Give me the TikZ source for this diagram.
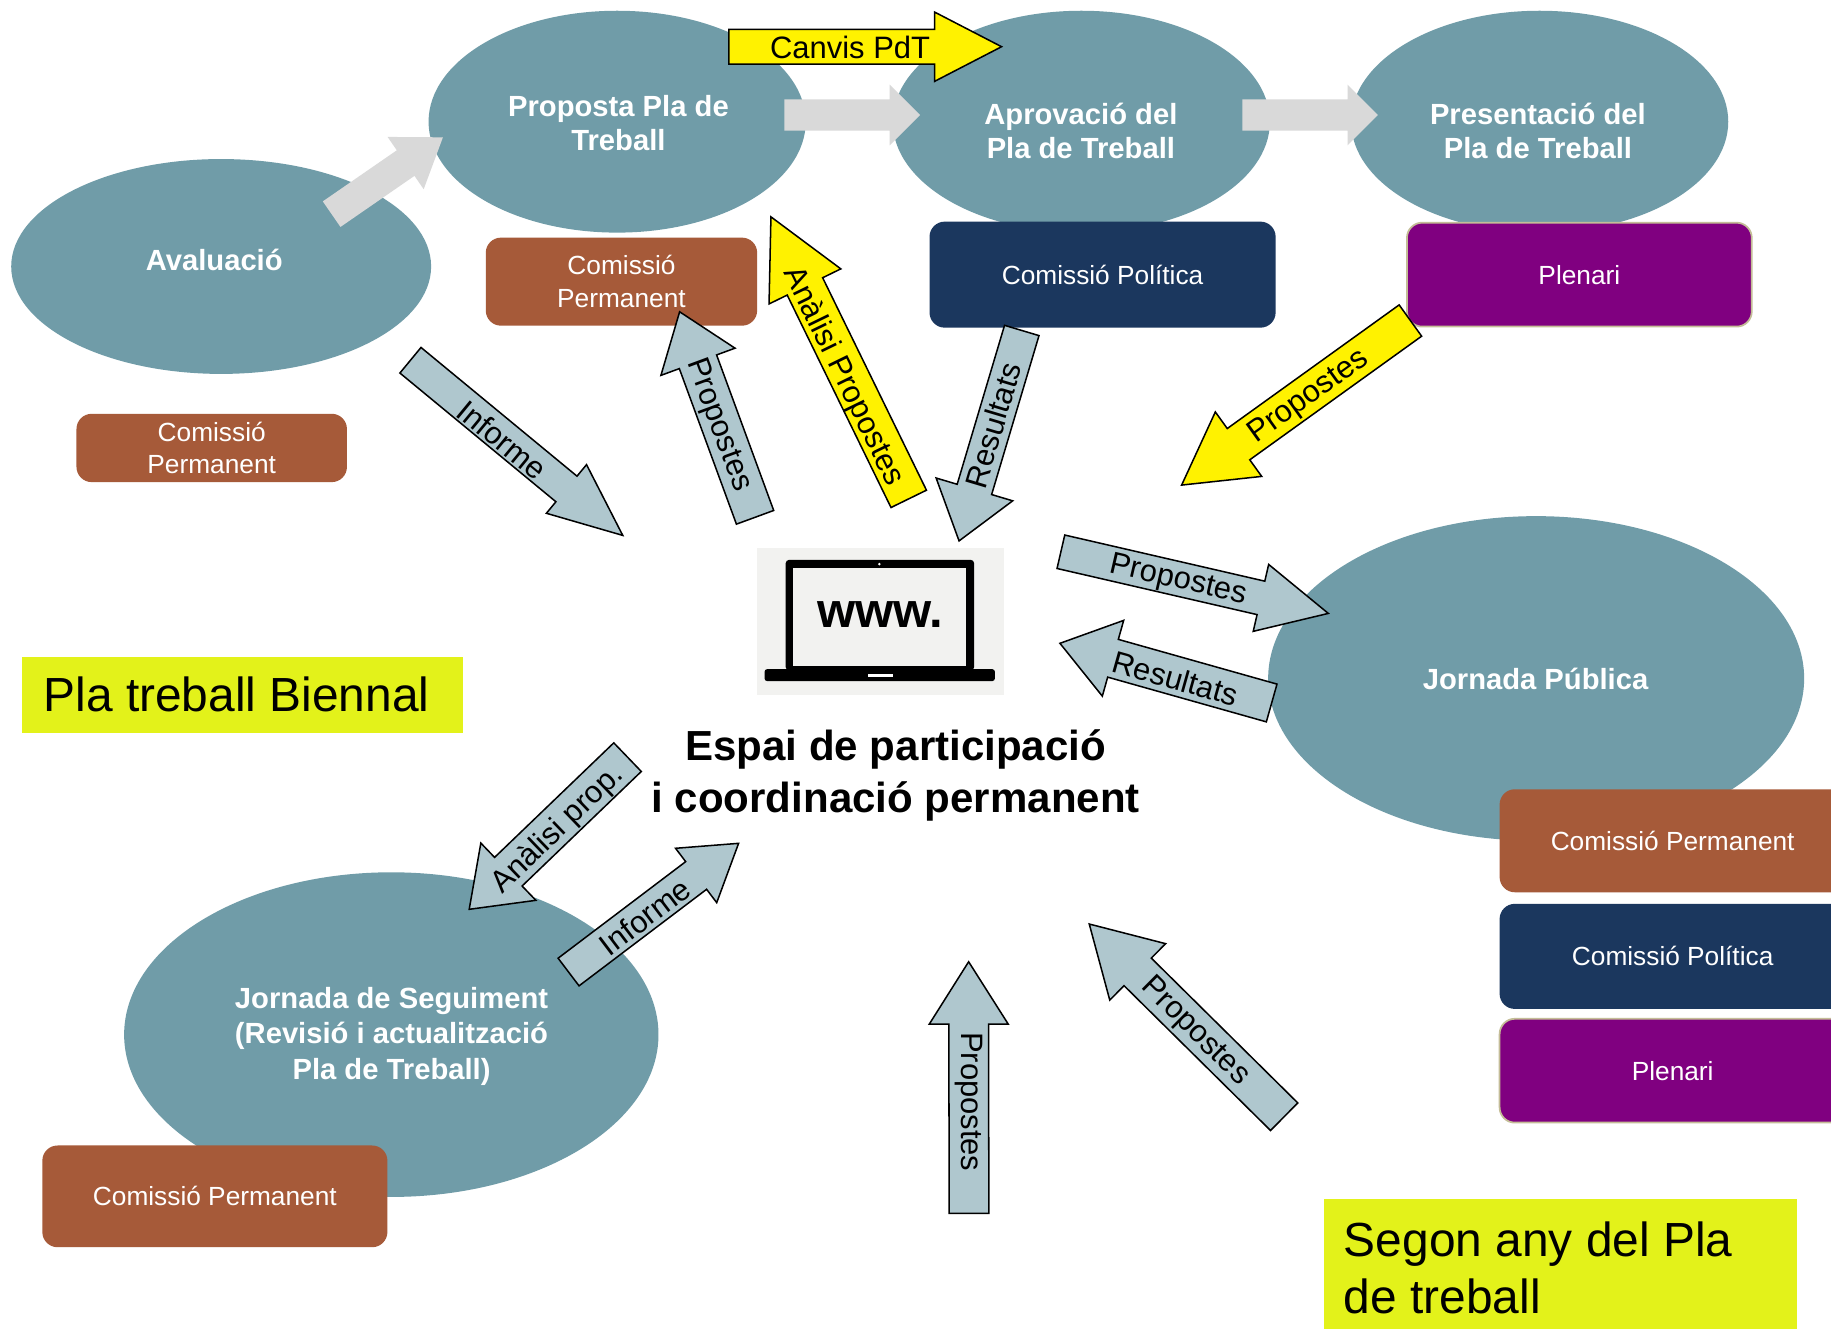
\documentclass[tikz,border=0pt]{standalone}
\usepackage{fontspec}
\setmainfont{Liberation Sans}
\usetikzlibrary{shapes.geometric,calc}
\definecolor{ellc}{RGB}{112,156,168}
\definecolor{brn}{RGB}{166,90,57}
\definecolor{nvy}{RGB}{27,55,94}
\definecolor{prp}{RGB}{128,0,128}
\definecolor{tanb}{RGB}{196,189,151}
\definecolor{lbl}{RGB}{175,199,206}
\definecolor{gry}{RGB}{217,217,217}
\definecolor{lime}{RGB}{227,242,26}
\definecolor{lap}{RGB}{242,242,240}
\newcommand\blockarrow[7]{%
  \coordinate (#1-t) at #3;
  \coordinate (#1-p) at #4;
  \coordinate (#1-h) at ($(#1-p)!#7pt!(#1-t)$);
  \path[#2] ($(#1-t)!#5pt!90:(#1-p)$) -- ($(#1-h)!#5pt!90:(#1-p)$) -- ($(#1-h)!#6pt!90:(#1-p)$) -- (#1-p) -- ($(#1-h)!#6pt!-90:(#1-p)$) -- ($(#1-h)!#5pt!-90:(#1-p)$) -- ($(#1-t)!#5pt!-90:(#1-p)$) -- cycle;
}
\begin{document}
\begin{tikzpicture}[x=1pt,y=-1pt,
  ellshape/.style={ellipse, fill=ellc, inner sep=0pt, outer sep=0pt},
  elltext/.style={text=white, align=center, font=\fontsize{25}{29.5}\selectfont\bfseries},
  box/.style={rounded corners=13pt, inner sep=0pt, text=white, align=center, font=\fontsize{22.5}{28}\selectfont},
  arrblue/.style={fill=lbl, draw=black, line width=1.3pt, line join=miter},
  arryel/.style={fill=yellow, draw=black, line width=1.3pt, line join=miter},
  arrgray/.style={fill=gry},
  lab/.style={inner sep=0pt, font=\fontsize{26.5}{30}\selectfont},
  bigl/.style={font=\fontsize{41}{49.3}\selectfont, inner sep=0pt, anchor=base west}]
\useasboundingbox (0,0) rectangle (1568,1137.3);
\clip (0,0) rectangle (1568,1137.3);
\fill[white] (0,0) rectangle (1568,1137.3);
% ellipses
\node[ellshape, minimum width=359.6pt, minimum height=184pt] (eval) at (189.4,228.2) {};
\node[ellshape, minimum width=323pt, minimum height=190pt] (prop) at (528.5,104.2) {};
\node[ellshape, minimum width=323pt, minimum height=190pt] (aprov) at (926,104.2) {};
\node[ellshape, minimum width=323pt, minimum height=190pt] (pres) at (1318.5,104.2) {};
\node[ellshape, minimum width=459pt, minimum height=278pt] (jpub) at (1315.5,581) {};
\node[ellshape, minimum width=457.6pt, minimum height=278pt] (jseg) at (335.1,886) {};
% boxes
\node[box, fill=brn, minimum width=232.4pt, minimum height=75.4pt] (cp1) at (532.2,241.2) {Comissió\\Permanent};
\node[box, fill=brn, minimum width=231.6pt, minimum height=58.5pt] (cp2) at (181.3,383.6) {Comissió\\Permanent};
\node[box, fill=nvy, minimum width=296.4pt, minimum height=90.8pt] (cpol1) at (944.2,235.2) {Comissió Política};
\node[box, fill=prp, draw=tanb, line width=1.5pt, minimum width=295.3pt, minimum height=89pt] (plen1) at (1352.5,235.2) {Plenari};
\node[box, fill=brn, minimum width=296.4pt, minimum height=88.2pt] (cp3) at (1432.4,720) {Comissió Permanent};
\node[box, fill=nvy, minimum width=296.4pt, minimum height=90pt] (cpol2) at (1432.4,819) {Comissió Política};
\node[box, fill=prp, draw=tanb, line width=1.5pt, minimum width=296.4pt, minimum height=88.9pt] (plen2) at (1432.4,916.9) {Plenari};
\node[box, fill=brn, minimum width=295.5pt, minimum height=87.1pt] (cp4) at (184,1024.5) {Comissió Permanent};
% label boxes
\node[fill=lime, minimum width=377.7pt, minimum height=65.8pt, inner sep=0pt] (bienbox) at (208,595.2) {};
\node[bigl] (bien) at (37.1,609.4) {Pla treball Biennal};
\node[fill=lime, minimum width=404.8pt, minimum height=115pt, inner sep=0pt] (segbox) at (1336.6,1084.2) {};
\node[bigl, align=left] (segon) at (1150.7,1125) {Segon any del Pla\\de treball};
% laptop
\node[fill=lap, minimum width=211.2pt, minimum height=125.1pt, inner sep=0pt] (web) at (753.9,532.25) {};
\fill[black, rounded corners=3pt] (672.8,479.4) rectangle (834.2,574.2);
\fill[lap] (679.5,486) rectangle (827.5,570);
\fill[black, rounded corners=2pt] (654.8,573.1) rectangle (851.9,583.2);
\fill[white] (743,577) rectangle (764.7,579.8);
\fill[white] (753,483.1) circle (1.2);
\node[inner sep=0pt, font=\fontsize{42}{42}\selectfont\bfseries] (www) at (753.9,526.3) {www.};
% title
\node[inner sep=0pt, align=center, font=\fontsize{36}{44}\selectfont\bfseries] (espai) at (767,664) {Espai de participació\\i coordinació permanent};
% arrows
\blockarrow{a1}{arrgray}{(284,183.4)}{(379.3,117.6)}{13.3}{27.2}{38.8}
\blockarrow{a2}{arrgray}{(671.8,98.5)}{(787.9,98.5)}{13.3}{26}{26}
\blockarrow{a3}{arrgray}{(1064,98.5)}{(1180,98.5)}{13.3}{26}{26}
\blockarrow{a4}{arryel}{(624.2,40)}{(857.7,40)}{14.85}{29.7}{57.4}
\blockarrow{a5}{arrblue}{(351.5,308.5)}{(533.3,458.5)}{14.2}{27}{62.5}
\blockarrow{a6}{arrblue}{(646.6,443)}{(582,267)}{17}{33.8}{45.6}
\blockarrow{a7}{arryel}{(778.2,427.2)}{(660.2,185.7)}{16.9}{34.2}{66.3}
\blockarrow{a8}{arrblue}{(875,283)}{(821.3,463.2)}{15.4}{34.2}{46}
\blockarrow{a9}{arryel}{(1207.8,274.5)}{(1011.9,415.4)}{16.5}{34}{60}
\blockarrow{a10}{arrblue}{(908.5,472.5)}{(1137.5,525.3)}{14.7}{29.4}{59.2}
\blockarrow{a11}{arrblue}{(1089,602)}{(907.7,550.9)}{16.8}{33.7}{47.2}
\blockarrow{a12}{arrblue}{(537.4,648.4)}{(401.8,778.7)}{17}{34}{46.5}
\blockarrow{a13}{arrblue}{(486.9,832.4)}{(632.5,722.2)}{14.85}{29.2}{45.6}
\blockarrow{a14}{arrblue}{(829.8,1039.1)}{(829.5,823.6)}{17}{33.8}{53.4}
\blockarrow{a15}{arrblue}{(1099.7,956.3)}{(932.8,791.3)}{16.6}{34}{58.3}
% arrow labels
\node[lab] (l4) at (728,40.5) {Canvis PdT};
\node[lab, rotate=-39.5] (l5) at (430.2,376.7) {Informe};
\node[lab, rotate=-69.8] (l6) at (615.1,364.1) {Propostes};
\node[lab, rotate=-64] (l7) at (722,322.7) {Anàlisi Propostes};
\node[lab, rotate=73.4] (l8) at (850.5,364.1) {Resultats};
\node[lab, rotate=35.7] (l9) at (1121,339.7) {Propostes};
\node[lab, rotate=-13] (l10) at (1009,497.3) {Propostes};
\node[lab, rotate=-15.7] (l11) at (1006.5,580.9) {Resultats};
\node[lab, rotate=43.9] (l12) at (477.7,710.8) {Anàlisi prop.};
\node[lab, rotate=37.1] (l13) at (552.2,785) {Informe};
\node[lab, rotate=-90] (l14) at (829.5,943.5) {Propostes};
\node[lab, rotate=-44.7] (l15) at (1023.2,883.5) {Propostes};
% ellipse texts
\node[elltext] (tev) at (183.5,222.7) {Avaluació};
\node[elltext] (tpr) at (529.6,105.3) {Proposta Pla de\\Treball};
\node[elltext] (tap) at (925.6,112) {Aprovació del\\Pla de Treball};
\node[elltext] (tps) at (1317,112) {Presentació del\\Pla de Treball};
\node[elltext] (tjp) at (1315,581) {Jornada Pública};
\node[elltext, font=\fontsize{25}{30.4}\selectfont\bfseries] (tjs) at (335.3,887.5) {Jornada de Seguiment\\(Revisió i actualització\\Pla de Treball)};
\end{tikzpicture}
\end{document}
